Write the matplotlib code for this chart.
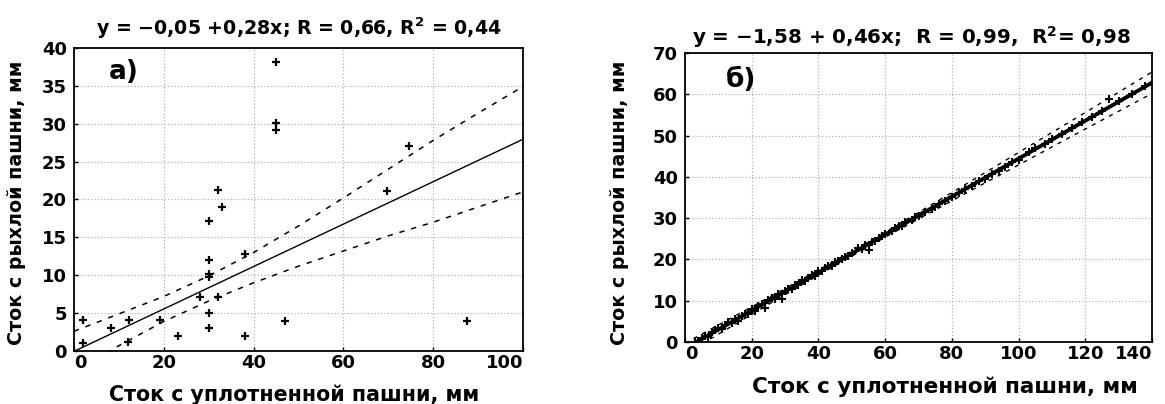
import matplotlib
matplotlib.use("Agg")
import matplotlib.pyplot as plt

plt.rcParams['font.family'] = ['DejaVu Sans']
plt.rcParams['mathtext.fontset'] = 'dejavusans'

# ---- Panel а): compacted vs loose tillage, first data set ----
xa = [2.1, 2.1, 8.2, 12.3, 12.1, 19.2, 23.2, 28.1, 30.1, 30.1, 32.0, 30.1, 30.1,
      30.1, 30.1, 32.1, 32.9, 38.1, 38.2, 45.1, 45.1, 45.1, 47.1, 69.7, 74.6, 87.5]
ya = [4.1, 1.1, 3.1, 4.1, 1.2, 4.1, 2.0, 7.1, 5.0, 3.0, 7.1, 10.2, 9.8,
      12.0, 17.1, 21.2, 19.0, 2.0, 12.8, 38.2, 30.1, 29.2, 4.0, 21.1, 27.1, 4.0]
a_intercept, a_slope = -0.05, 0.28
a_band_x = [0, 10, 20, 30, 40, 50, 60, 70, 80, 90, 100]
a_band_hi = [2.6, 4.9, 7.2, 9.9, 13.0, 16.5, 20.2, 24.0, 27.8, 31.4, 34.9]
a_band_lo = [-2.6, 0.7, 3.9, 6.6, 9.0, 11.2, 13.2, 15.2, 17.0, 19.0, 21.0]
a_title = "y = \u22120,05 +0,28x; R = 0,66, R$^{\\mathbf{2}}$ = 0,44"

# ---- Panel б): second data set ----
xb = [3, 4, 5, 6, 7, 8, 9, 10, 11, 12, 13, 14, 15, 16, 17, 18, 19, 20, 21, 22,
      23, 24, 25, 26, 27, 28, 29, 30, 31, 32, 33, 34, 35, 36, 37, 38, 39, 40, 41,
      42, 43, 44, 45, 46, 47, 48, 49, 50, 52, 53, 54, 55, 56, 57, 58, 59, 60, 62,
      63, 64, 65, 66, 68, 69, 70, 72, 74, 75, 76, 78, 80, 82, 84, 86, 88, 90, 92,
      94, 96, 98, 100, 103, 105, 108, 110, 113, 116, 119, 122, 125, 127, 130, 134, 138]
yb = [0.1, 0.3, 0.9, 1.5, 1.2, 2.3, 2.9, 3.4, 3.2, 4.1, 4.9, 4.6, 5.6, 5.2, 6.4, 6.9,
      6.8, 7.9, 7.4, 8.8, 9.3, 8.2, 10.1, 10.6, 10.5, 11.6, 10.3, 12.4, 12.9, 12.8,
      13.8, 13.9, 14.9, 14.7, 15.6, 16.3, 16.1, 17.1, 17.2, 18.0, 18.4, 18.5, 19.3,
      19.6, 20.2, 20.6, 20.9, 21.5, 22.7, 22.6, 23.5, 22.2, 24.3, 24.4, 25.2, 25.7,
      26.1, 26.9, 27.6, 28.1, 28.0, 29.0, 29.6, 30.3, 30.5, 31.6, 32.3, 32.8, 33.5,
      34.2, 35.2, 36.2, 37.1, 37.7, 38.9, 39.5, 40.6, 41.5, 42.3, 43.6, 44.2, 45.9,
      46.9, 47.9, 49.2, 50.3, 51.8, 53.4, 54.4, 56.0, 58.9, 58.3, 60.1, 61.9]
b_intercept, b_slope = -1.58, 0.46
b_band_x = [0, 20, 40, 60, 80, 100, 120, 140]
b_band_hi = [-0.3, 8.5, 17.4, 26.6, 36.2, 45.9, 55.6, 65.4]
b_band_lo = [-2.9, 6.7, 16.2, 25.4, 34.2, 42.9, 51.6, 60.2]
b_title = "y = \u22121,58 + 0,46x;  R = 0,99,  R$^{\\mathbf{2}}$= 0,98"

xlabel = "Сток с уплотненной пашни, мм"
ylabel = "Сток с рыхлой пашни, мм"

fig = plt.figure(figsize=(11.65, 4.04), dpi=100)
ax1 = fig.add_axes([0.0635, 0.1312, 0.3854, 0.75])
ax2 = fig.add_axes([0.588, 0.1535, 0.4009, 0.7153])


def style(ax, xlim, ylim, xstep, ystep, tick_size):
    ax.set_xlim(*xlim)
    ax.set_ylim(*ylim)
    ax.set_xticks(range(xlim[0], xlim[1] + 1, xstep))
    ax.set_yticks(range(ylim[0], ylim[1] + 1, ystep))
    ax.grid(True, color="#a8a8a8", linestyle=(0, (1, 2)), linewidth=0.8)
    ax.set_axisbelow(True)
    ax.tick_params(direction="in", length=3, width=1, labelsize=tick_size)
    ax.tick_params(axis="x", pad=2)
    ax.tick_params(axis="y", pad=5)
    xlabels = ax.get_xticklabels()
    for lab in xlabels + ax.get_yticklabels():
        lab.set_fontweight("bold")
    # end labels of the x axis stay inside the frame
    xlabels[0].set_horizontalalignment("left")
    xlabels[-1].set_horizontalalignment("right")
    for s in ax.spines.values():
        s.set_linewidth(1.3)


# Panel а)
style(ax1, (0, 100), (0, 40), 20, 5, 13)
line_x = [0, 100]
ax1.plot(line_x, [a_intercept + a_slope * v for v in line_x], color="black", lw=1.0)
ax1.plot(a_band_x, a_band_hi, color="black", lw=1.1, linestyle=(0, (3.5, 4.5)))
ax1.plot(a_band_x, a_band_lo, color="black", lw=1.1, linestyle=(0, (3.5, 4.5)))
ax1.plot(xa, ya, linestyle="none", marker="+", ms=6, mew=1.6, color="black", clip_on=False)
ax1.text(11, 36.8, "а)", fontsize=19, fontweight="bold", ha="center", va="center")
ax1.text(0.5, 1.066, a_title, transform=ax1.transAxes, ha="center", va="center",
         fontsize=13.7, fontweight="bold")
ax1.text(0.49, -0.145, xlabel, transform=ax1.transAxes, ha="center", va="center",
         fontsize=14.8, fontweight="bold")
ax1.text(-0.127, 0.49, ylabel, transform=ax1.transAxes, ha="center", va="center",
         rotation=90, fontsize=13.7, fontweight="bold")

# Panel б)
style(ax2, (0, 140), (0, 70), 20, 10, 13)
line_x = [0, 140]
ax2.plot(b_band_x, b_band_hi, color="black", lw=1.0, linestyle=(0, (3, 4)))
ax2.plot(b_band_x, b_band_lo, color="black", lw=1.0, linestyle=(0, (3, 4)))
ax2.plot(xb, yb, linestyle="none", marker="+", ms=5.5, mew=1.5, color="black")
ax2.plot(line_x, [b_intercept + b_slope * v for v in line_x], color="black", lw=2.8)
ax2.text(16.8, 63.4, "б)", fontsize=19, fontweight="bold", ha="center", va="center")
ax2.text(0.484, 1.055, b_title, transform=ax2.transAxes, ha="center", va="center",
         fontsize=14.3, fontweight="bold")
ax2.text(0.557, -0.156, xlabel, transform=ax2.transAxes, ha="center", va="center",
         fontsize=15.5, fontweight="bold")
ax2.text(-0.141, 0.48, ylabel, transform=ax2.transAxes, ha="center", va="center",
         rotation=90, fontsize=13.7, fontweight="bold")

fig.savefig("out.png", dpi=100, facecolor="white")
